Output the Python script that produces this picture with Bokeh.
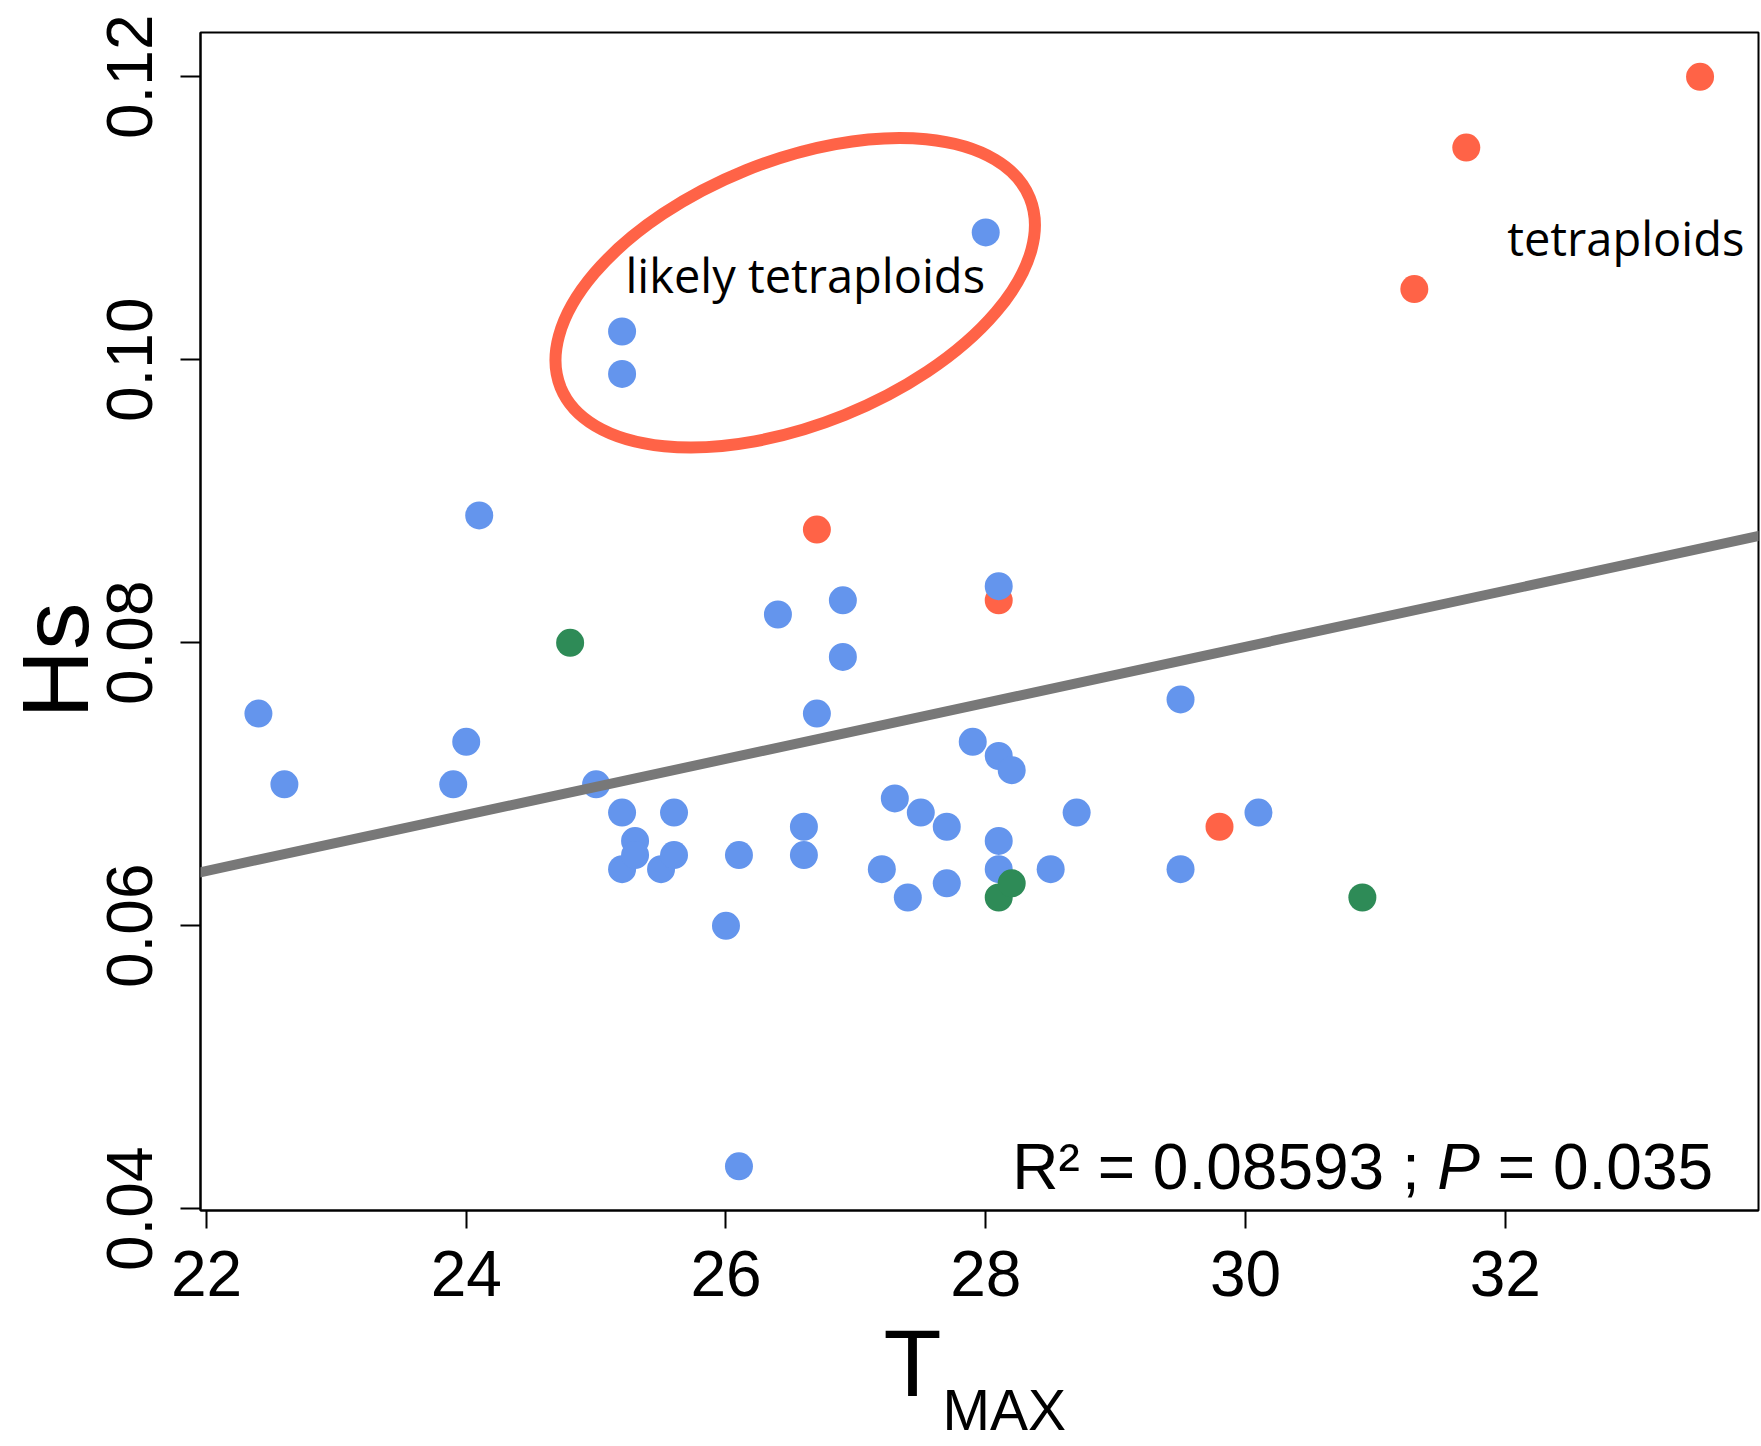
from bokeh.plotting import figure
from bokeh.models import Label, FixedTicker, Range1d, Slope, NumeralTickFormatter, Title
from bokeh.embed import file_html
from bokeh.resources import INLINE

# ---------------- data ----------------
blue_x = [22.4, 22.6, 23.9, 24.0, 24.1, 25.0, 25.2, 25.2, 25.2, 25.2, 25.3, 25.3, 25.5, 25.6,
          25.6, 26.0, 26.1, 26.1, 26.4, 26.6, 26.6, 26.7, 26.9, 26.9, 27.2, 27.3, 27.4, 27.5,
          27.7, 27.7, 27.9, 28.0, 28.1, 28.1, 28.2, 28.1, 28.1, 28.5, 28.7, 29.5, 29.5, 30.1]
blue_y = [0.075, 0.070, 0.070, 0.073, 0.089, 0.070, 0.102, 0.099, 0.068, 0.064, 0.066, 0.065,
          0.064, 0.068, 0.065, 0.060, 0.065, 0.043, 0.082, 0.067, 0.065, 0.075, 0.083, 0.079,
          0.064, 0.069, 0.062, 0.068, 0.067, 0.063, 0.073, 0.109, 0.084, 0.072, 0.071, 0.066,
          0.064, 0.064, 0.068, 0.076, 0.064, 0.068]

red_x = [26.7, 28.1, 29.8, 31.3, 31.7, 33.5]
red_y = [0.088, 0.083, 0.067, 0.105, 0.115, 0.120]

green_x = [24.8, 28.1, 28.2, 30.9]
green_y = [0.080, 0.062, 0.063, 0.062]

fit_intercept = 0.02032
fit_slope = 0.00198

x_ticks = [22, 24, 26, 28, 30, 32]
y_ticks = [0.04, 0.06, 0.08, 0.10, 0.12]

r2_text = "R\u00b2 = 0.08593 ;"
p_text = "P"
p_value_text = "= 0.035"

BLUE = "#6495ED"
RED = "#FF6347"
GREEN = "#2E8B57"
LINE_GRAY = "#787878"
SANS = "Liberation Sans"
HUMANIST = "Open Sans"

# ---------------- figure ----------------
p = figure(width=1760, height=1444,
           x_range=Range1d(21.954, 33.95), y_range=Range1d(0.03988, 0.12313),
           output_backend="svg", toolbar_location=None,
           min_border_left=200, min_border_right=2, min_border_top=32, min_border_bottom=234)

p.xgrid.visible = False
p.ygrid.visible = False
p.outline_line_color = "black"
p.outline_line_width = 2
p.background_fill_color = "white"
p.border_fill_color = "white"

for ax in (p.xaxis[0], p.yaxis[0]):
    ax.axis_line_width = 2
    ax.axis_line_color = "black"
    ax.major_tick_line_width = 2
    ax.major_tick_line_color = "black"
    ax.major_tick_in = 0
    ax.minor_tick_line_color = None
    ax.major_label_text_font = SANS
    ax.major_label_text_font_size = "64px"
    ax.major_label_text_color = "black"

p.xaxis.ticker = FixedTicker(ticks=x_ticks)
p.xaxis.major_tick_out = 18
p.xaxis.major_label_standoff = 22

p.yaxis.ticker = FixedTicker(ticks=y_ticks)
p.yaxis.formatter = NumeralTickFormatter(format="0.00")
p.yaxis.major_tick_out = 20
p.yaxis.major_label_orientation = "vertical"
p.yaxis.major_label_standoff = 28

# regression line
p.add_layout(Slope(gradient=fit_slope, y_intercept=fit_intercept,
                   line_color=LINE_GRAY, line_width=10))

# points
p.scatter(red_x, red_y, size=28, color=RED, line_color=None)
p.scatter(blue_x, blue_y, size=28, color=BLUE, line_color=None)
p.scatter(green_x, green_y, size=28, color=GREEN, line_color=None)

# "likely tetraploids" ellipse annotation
p.ellipse(x=[26.533], y=[0.10474], width=[506], height=[264], angle=0.384,
          width_units="screen", height_units="screen",
          fill_color=None, line_color=RED, line_width=12)

p.add_layout(Label(x=25.226, y=0.10598, text="likely tetraploids",
                   text_font=HUMANIST, text_font_size="47px", text_color="black",
                   text_align="left", text_baseline="alphabetic"))
p.add_layout(Label(x=32.015, y=0.10864, text="tetraploids",
                   text_font=HUMANIST, text_font_size="47px", text_color="black",
                   text_align="left", text_baseline="alphabetic"))

# statistics text
stat_y = 0.04292
p.add_layout(Label(x=28.205, y=stat_y, text=r2_text, text_font=SANS, text_color="black",
                   text_font_size="64px", text_align="left", text_baseline="alphabetic"))
p.add_layout(Label(x=31.476, y=stat_y, text=p_text, text_font=SANS, text_font_style="italic",
                   text_color="black",
                   text_font_size="64px", text_align="left", text_baseline="alphabetic"))
p.add_layout(Label(x=31.943, y=stat_y, text=p_value_text, text_font=SANS, text_color="black",
                   text_font_size="64px", text_align="left", text_baseline="alphabetic"))

# axis titles (side-panel titles are not clipped to the frame)
p.add_layout(Title(text="Hs", align="left", vertical_align="bottom", offset=492,
                   standoff=-6, text_font=SANS, text_font_size="95px",
                   text_font_style="normal", text_color="black"), "left")
# thin spacer below the tick labels
p.add_layout(Title(text="\u00a0", align="left", vertical_align="bottom", standoff=20,
                   text_font=SANS, text_font_size="2px", text_color="white"), "below")
p.add_layout(Title(text="T", align="left", vertical_align="bottom", offset=683,
                   standoff=-30, text_font=SANS, text_font_size="95px",
                   text_font_style="normal", text_color="black"), "below")
p.add_layout(Title(text="MAX", align="left", vertical_align="bottom", offset=742,
                   standoff=-49, text_font=SANS, text_font_size="57px",
                   text_font_style="normal", text_color="black"), "below")

open("out.html", "w").write(file_html(p, INLINE))
